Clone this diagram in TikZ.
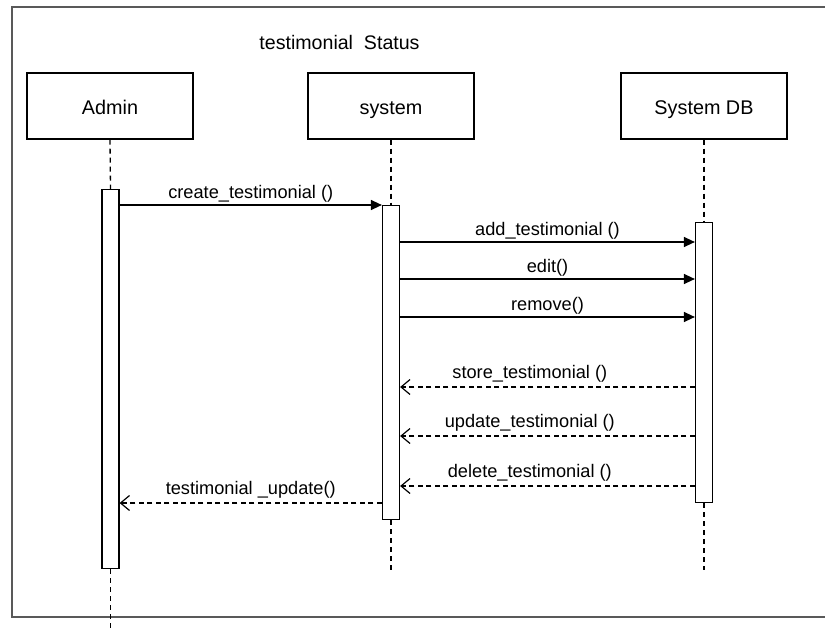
\documentclass[tikz,border=0pt]{standalone}
\usepackage{fontspec}
\setmainfont{Liberation Sans}
\usetikzlibrary{arrows.meta,positioning,calc}

\begin{document}
\begin{tikzpicture}[x=1pt,y=-1pt,
    lifebox/.style={draw,line width=1.2pt,minimum width=166pt,minimum height=66pt,inner sep=0pt,text height=19pt,text depth=2pt,font=\fontsize{19.8}{21}\selectfont},
    actbar/.style={draw,line width=1.2pt,fill=white,minimum width=17pt,inner sep=0pt,anchor=north},
    lifeline/.style={line width=1.3pt,dash pattern=on 5pt off 4pt},
    call/.style={line width=1.3pt,-{Triangle[length=11pt,width=10pt]}},
    reply/.style={line width=1.1pt,dash pattern=on 5pt off 3.5pt,-{Straight Barb[length=9pt,width=15pt,line width=1.2pt]}},
    msg/.style={font=\fontsize{18.2}{20}\selectfont,inner sep=2pt}]
  \useasboundingbox (0,0) rectangle (825,628);
  \clip (0,0) rectangle (825,628);

  % frame
  \draw[line width=1.6pt,black!65] (12,7) rectangle (860,617);
  \node[font=\fontsize{19.6}{21}\selectfont] (title) at (339.5,42) {testimonial\ \ Status};

  % lifeline heads
  \node[lifebox] (admin) at (110,106) {Admin};
  \node[lifebox] (sys) at (391,106) {system};
  \node[lifebox] (db) at (704,106) {System DB};

  % activations
  \node[actbar,minimum height=379pt] (admAct) at (110.5,189) {};
  \node[actbar,minimum height=314pt] (sysAct) at (391,205) {};
  \node[actbar,minimum height=280pt] (dbAct) at (704,222) {};

  % lifelines
  \coordinate (admEnd) at (110.5,640);
  \coordinate (sysEnd) at (391,570);
  \coordinate (dbEnd) at (704,570);
  \draw[lifeline] (admin.south) -- (admAct.north);
  \draw[lifeline] (admAct.south) -- (admEnd);
  \draw[lifeline] (sys.south) -- (sysAct.north);
  \draw[lifeline] (sysAct.south) -- (sysEnd);
  \draw[lifeline] (db.south) -- (dbAct.north);
  \draw[lifeline] (dbAct.south) -- (dbEnd);

  % calls
  \draw[call] (admAct.east |- 0,205) -- (sysAct.west |- 0,205) node[msg,midway,above] {create\_testimonial ()};
  \draw[call] (sysAct.east |- 0,242) -- (dbAct.west |- 0,242) node[msg,midway,above] {add\_testimonial ()};
  \draw[call] (sysAct.east |- 0,279) -- (dbAct.west |- 0,279) node[msg,midway,above] {edit()};
  \draw[call] (sysAct.east |- 0,317) -- (dbAct.west |- 0,317) node[msg,midway,above] {remove()};

  % replies
  \draw[reply] (dbAct.west |- 0,387) -- (sysAct.east |- 0,387) node[msg,pos=.56,above=2pt] {store\_testimonial ()};
  \draw[reply] (dbAct.west |- 0,436) -- (sysAct.east |- 0,436) node[msg,pos=.56,above=2pt] {update\_testimonial ()};
  \draw[reply] (dbAct.west |- 0,486) -- (sysAct.east |- 0,486) node[msg,pos=.56,above=2pt] {delete\_testimonial ()};
  \draw[reply] (sysAct.west |- 0,503) -- (admAct.east |- 0,503) node[msg,midway,above=2pt] {testimonial \_update()};
\end{tikzpicture}
\end{document}
